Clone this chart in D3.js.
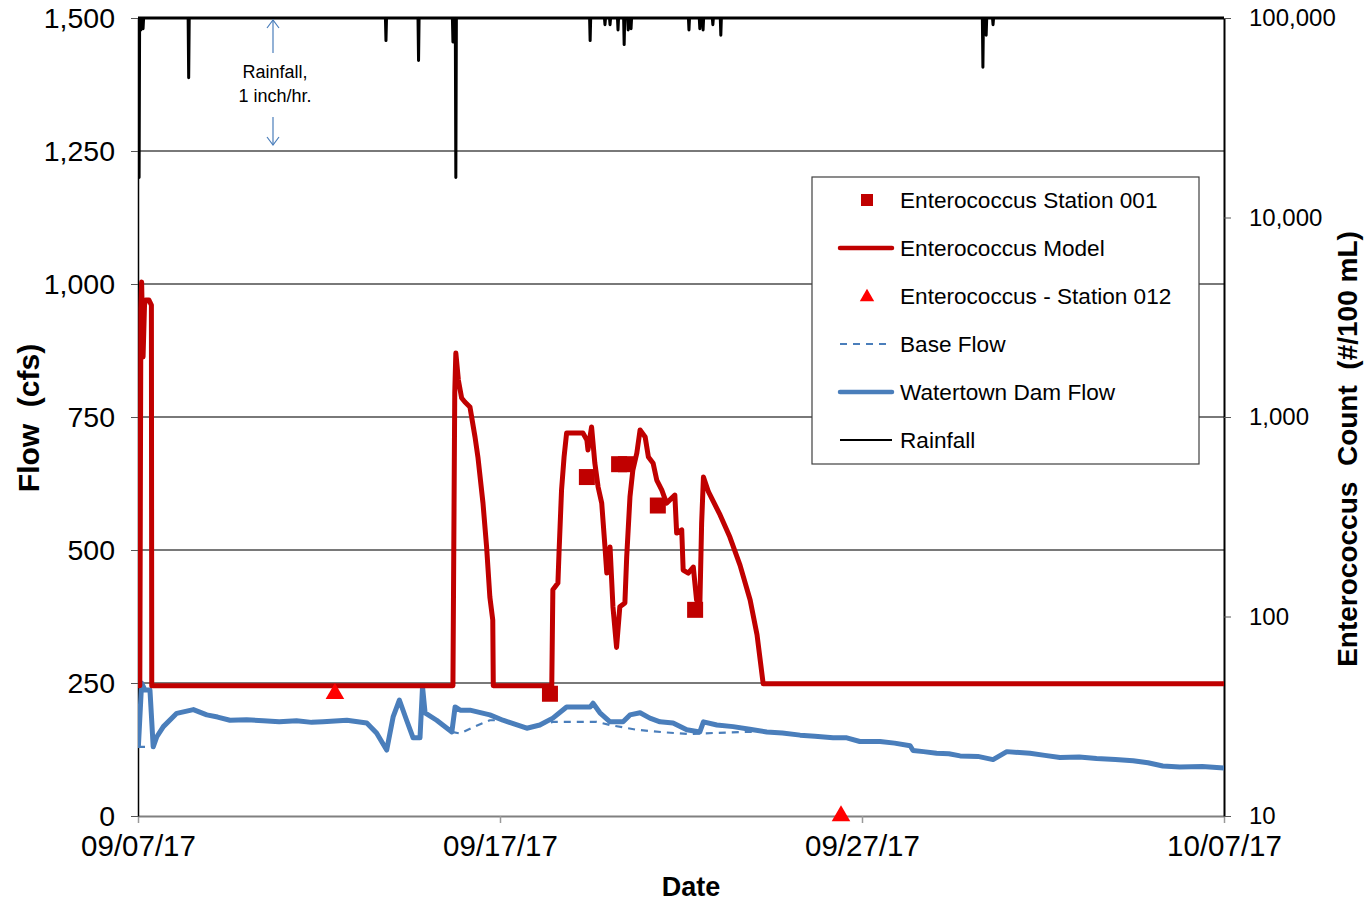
<!DOCTYPE html>
<html>
<head>
<meta charset="utf-8">
<script src="https://cdn.jsdelivr.net/npm/d3@7"></script>
<style>
  body { margin: 0; background: #fff; }
  text { font-family: "Liberation Sans", Arial, sans-serif; fill: #000; }
</style>
</head>
<body>
<svg id="chart" width="1371" height="907"></svg>
<script>
// day offsets are days after 09/07/17 00:00
var startDate = Date.UTC(2017, 8, 7);
var tickDays = [0, 10, 20, 30];
var flowTicks = [0, 250, 500, 750, 1000, 1250, 1500];
var countTicks = [10, 100, 1000, 10000, 100000];

// Watertown Dam Flow (cfs)
var flowDays = [0.01, 0.10, 0.19, 0.33, 0.42, 0.52, 0.70, 1.07, 1.53, 1.90, 2.20, 2.54, 3.00, 3.46, 3.90, 4.38, 4.80, 5.11, 5.77,
  6.32, 6.59, 6.87, 7.05, 7.22, 7.42, 7.60, 7.79, 7.86, 7.93, 8.25, 8.67, 8.76, 8.90, 9.17, 9.72, 10.08,
  10.74, 11.10, 11.46, 11.84, 12.49, 12.57, 12.76, 13.04, 13.40, 13.59, 13.87, 14.14, 14.42, 14.78, 15.16,
  15.52, 15.62, 15.99, 16.44, 16.90, 17.37, 17.80, 18.29, 18.70, 19.20, 19.58, 19.94, 20.50, 20.90, 21.33, 21.41, 21.70, 22.06, 22.40, 22.71, 23.20, 23.62,
  24.00, 24.64, 25.05, 25.47, 26.00, 26.48, 27.00, 27.49, 27.90, 28.31, 28.78, 29.40, 30.00];
var flowValues = [130, 250, 237, 237, 130, 149, 168, 193, 200, 190, 186, 180, 181, 179, 177, 179, 176, 177, 180,
  175, 156, 124, 187, 218, 180, 147, 147, 243, 194, 180, 158, 205, 199, 199, 190, 180,
  165, 171, 184, 205, 205, 212, 194, 177, 177, 190, 194, 184, 177, 175, 162,
  158, 177, 171, 168, 163, 158, 156, 152, 150, 147, 147, 140, 140, 137, 132, 123, 121, 118, 117, 113, 112, 106,
  121, 118, 114, 110, 111, 108, 106, 104, 100, 94, 92, 93, 90];

// Base Flow (cfs), null = not shown
var baseDays = [0.00, 0.42, 0.43, 8.67, 8.90, 9.30, 9.72, 10.08, 10.74, 11.10, 11.46, 12.67, 13.04, 13.78,
  14.60, 15.25, 15.88, 16.81, 17.37];
var baseValues = [130, 130, null, 158, 155, 168, 180, 180, 165, 171, 177, 177, 171, 162,
  157, 154, 156, 158, 158];

// Enterococcus Model (#/100 mL)
var modelDays = [0.00, 0.03, 0.05, 0.08, 0.10, 0.14, 0.18, 0.21, 0.30, 0.37, 0.38,
  8.70, 8.75, 8.78, 8.85, 8.94, 9.03, 9.17, 9.31, 9.39, 9.53, 9.63, 9.72, 9.80, 9.815,
  11.43, 11.46, 11.60, 11.63, 11.70, 11.77, 11.84, 11.93, 12.29, 12.40, 12.43, 12.53, 12.62, 12.71,
  12.81, 12.90, 12.95, 13.04, 13.12, 13.22, 13.31, 13.45, 13.50, 13.59, 13.67, 13.78, 13.87, 14.01,
  14.10, 14.23, 14.33, 14.47, 14.60, 14.83, 14.88, 15.02, 15.06, 15.20, 15.34, 15.43, 15.52, 15.57,
  15.62, 15.76, 16.08, 16.35, 16.63, 16.91, 17.10, 17.27, 30.00];
var modelValues = [89, 45, 45, 3500, 4750, 2000, 3640, 3860, 3860, 3640, 45,
  45, 1320, 2094, 1531, 1245, 1189, 1122, 794, 630, 370, 223, 125, 96, 45,
  45, 136, 147, 208, 430, 630, 832, 832, 832, 767, 684, 891, 587, 446,
  370, 223, 165, 223, 112, 70, 112, 117, 199, 397, 542, 660, 861, 794,
  630, 587, 483, 430, 370, 406, 262, 272, 171, 165, 177, 121, 112, 294,
  500, 421, 323, 250, 181, 121, 81, 46, 46];

// Enterococcus Station 001 samples
var st001Days = [11.38, 12.40, 13.29, 13.48, 14.36, 15.39];
var st001Values = [41, 500, 580, 580, 360, 108];

// Enterococcus - Station 012 samples
var st012Days = [5.44, 19.42];
var st012Values = [41, 10];

// Rainfall (inch/hr), hanging from the top
var rainDays = [0.03, 0.08, 0.14, 1.40, 6.85, 7.75, 8.70, 8.78, 12.49, 12.90, 13.04, 13.26, 13.43, 13.54,
  13.62, 15.22, 15.52, 15.61, 15.88, 16.10, 23.34, 23.43, 23.62];
var rainValues = [1.20, 0.09, 0.08, 0.45, 0.17, 0.32, 0.18, 1.20, 0.17, 0.05, 0.05, 0.09, 0.20, 0.09,
  0.08, 0.09, 0.08, 0.09, 0.05, 0.13, 0.37, 0.13, 0.05];

var svg = d3.select("#chart");
var plotL = 138, plotT = 18, plotR = 1224, plotB = 816;

function toDate(d) { return new Date(startDate + d * 864e5); }

var xScale = d3.scaleUtc().domain([toDate(0), toDate(30)]).range([plotL, plotR]);
var yFlow = d3.scaleLinear().domain([0, 1500]).range([plotB, plotT]);
var yCount = d3.scaleLog().domain([10, 100000]).range([plotB, plotT]);
var yRain = d3.scaleLinear().domain([0, 6]).range([plotT, plotB]);

var blue = "#4A7EBB", darkRed = "#C00000", red = "#FF0000";

svg.append("clipPath").attr("id", "plotClip")
  .append("rect").attr("x", plotL).attr("y", plotT - 3).attr("width", plotR - plotL).attr("height", plotB - plotT + 3);

// gridlines
svg.append("g").selectAll("line")
  .data(flowTicks.slice(1))
  .enter().append("line")
  .attr("x1", plotL).attr("x2", plotR)
  .attr("y1", function(d) { return yFlow(d); })
  .attr("y2", function(d) { return yFlow(d); })
  .attr("stroke", "#4d4d4d").attr("stroke-width", 1.3);

// axes
var xAxis = svg.append("g")
  .attr("transform", "translate(0," + plotB + ")")
  .call(d3.axisBottom(xScale).tickValues(tickDays.map(toDate)).tickFormat(d3.utcFormat("%m/%d/%y")).tickSize(7).tickSizeOuter(0));
xAxis.select(".domain").attr("stroke", "#808080").attr("stroke-width", 2);
xAxis.selectAll(".tick line").attr("stroke", "#999").attr("stroke-width", 1.5);
xAxis.selectAll("text").attr("font-size", 29.5).attr("dy", "1.0em").attr("fill", "#000");

var yAxisL = svg.append("g")
  .attr("transform", "translate(" + plotL + ",0)")
  .call(d3.axisLeft(yFlow).tickValues(flowTicks).tickFormat(d3.format(",")).tickSize(7).tickSizeOuter(0));
yAxisL.select(".domain").attr("stroke", "#000").attr("stroke-width", 1.5);
yAxisL.selectAll(".tick line").attr("stroke", "#555");
yAxisL.selectAll("text").attr("font-size", 28.5).attr("x", -23).attr("fill", "#000");

var yAxisR = svg.append("g")
  .attr("transform", "translate(" + plotR + ",0)")
  .call(d3.axisRight(yCount).tickValues(countTicks).tickFormat(d3.format(",")).tickSize(7).tickSizeOuter(0));
yAxisR.select(".domain").attr("stroke", "#000").attr("stroke-width", 2);
yAxisR.selectAll(".tick line").attr("stroke", "#555");
yAxisR.selectAll("text").attr("font-size", 24).attr("x", 25).attr("fill", "#000");

// axis titles
svg.append("text").attr("x", 691).attr("y", 896).attr("text-anchor", "middle")
  .attr("font-size", 27).attr("font-weight", "bold").text("Date");
svg.append("text").attr("transform", "translate(39,418) rotate(-90)").attr("text-anchor", "middle")
  .attr("font-size", 30).attr("font-weight", "bold").attr("xml:space", "preserve").text("Flow  (cfs)");
svg.append("text").attr("transform", "translate(1357,449) rotate(-90)").attr("text-anchor", "middle")
  .attr("font-size", 28).attr("font-weight", "bold").attr("xml:space", "preserve").text("Enterococcus  Count  (#/100 mL)");

var plot = svg.append("g").attr("clip-path", "url(#plotClip)");

// base flow
var baseLine = d3.line()
  .defined(function(d) { return d[1] !== null; })
  .x(function(d) { return xScale(toDate(d[0])); })
  .y(function(d) { return yFlow(d[1]); });
plot.append("path")
  .datum(baseDays.map(function(d, i) { return [d, baseValues[i]]; }))
  .attr("d", baseLine)
  .attr("fill", "none").attr("stroke", blue).attr("stroke-width", 2.2).attr("stroke-dasharray", "7,6");

// watertown dam flow
var flowLine = d3.line()
  .x(function(d) { return xScale(toDate(d[0])); })
  .y(function(d) { return yFlow(d[1]); });
plot.append("path")
  .datum(flowDays.map(function(d, i) { return [d, flowValues[i]]; }))
  .attr("d", flowLine)
  .attr("fill", "none").attr("stroke", blue).attr("stroke-width", 5).attr("stroke-linejoin", "round");

// model
var modelLine = d3.line()
  .x(function(d) { return xScale(toDate(d[0])); })
  .y(function(d) { return yCount(d[1]); });
plot.append("path")
  .datum(modelDays.map(function(d, i) { return [d, modelValues[i]]; }))
  .attr("d", modelLine)
  .attr("fill", "none").attr("stroke", darkRed).attr("stroke-width", 5).attr("stroke-linejoin", "round");

// rainfall: each reading drawn as a spike from the zero line
var rainPts = [[0, 0]];
rainDays.forEach(function(d, i) {
  rainPts.push([d - 0.015, 0], [d, rainValues[i]], [d + 0.015, 0]);
});
rainPts.push([30, 0]);
var rainLine = d3.line()
  .x(function(d) { return xScale(toDate(d[0])); })
  .y(function(d) { return yRain(d[1]); });
plot.append("path")
  .datum(rainPts)
  .attr("d", rainLine)
  .attr("fill", "none").attr("stroke", "#000").attr("stroke-width", 3).attr("stroke-linejoin", "round");

// station 001 squares
svg.append("g").selectAll("rect")
  .data(st001Days.map(function(d, i) { return [d, st001Values[i]]; }))
  .enter().append("rect")
  .attr("x", function(d) { return xScale(toDate(d[0])) - 8; })
  .attr("y", function(d) { return yCount(d[1]) - 8; })
  .attr("width", 16).attr("height", 16)
  .attr("fill", darkRed);

// station 012 triangles
var tri = d3.symbol().type(d3.symbolTriangle).size(150);
svg.append("g").selectAll("path")
  .data(st012Days.map(function(d, i) { return [d, st012Values[i]]; }))
  .enter().append("path")
  .attr("d", tri)
  .attr("transform", function(d) { return "translate(" + xScale(toDate(d[0])) + "," + yCount(d[1]) + ")"; })
  .attr("fill", red);

// rainfall scale note
var noteX = 273;
svg.append("text").attr("x", 275).attr("y", 78).attr("text-anchor", "middle").attr("font-size", 18).text("Rainfall,");
svg.append("text").attr("x", 275).attr("y", 102).attr("text-anchor", "middle").attr("font-size", 18).text("1 inch/hr.");
var noteArrow = svg.append("g").attr("stroke", blue).attr("stroke-width", 1.2).attr("fill", "none");
noteArrow.append("line").attr("x1", noteX).attr("x2", noteX).attr("y1", 53).attr("y2", yRain(0) + 2);
noteArrow.append("path").attr("d", "M" + (noteX - 6) + "," + (yRain(0) + 10) + "L" + noteX + "," + (yRain(0) + 2) + "L" + (noteX + 6) + "," + (yRain(0) + 10));
noteArrow.append("line").attr("x1", noteX).attr("x2", noteX).attr("y1", 117).attr("y2", yRain(1) - 6);
noteArrow.append("path").attr("d", "M" + (noteX - 6) + "," + (yRain(1) - 14) + "L" + noteX + "," + (yRain(1) - 6) + "L" + (noteX + 6) + "," + (yRain(1) - 14));

// legend
var legend = svg.append("g").attr("transform", "translate(812,177)");
legend.append("rect").attr("width", 387).attr("height", 287)
  .attr("fill", "#fff").attr("stroke", "#404040").attr("stroke-width", 1.2);
var legendItems = ["Enterococcus Station 001", "Enterococcus Model", "Enterococcus - Station 012",
  "Base Flow", "Watertown Dam Flow", "Rainfall"];
legendItems.forEach(function(name, i) {
  var y = 23 + i * 48;
  legend.append("text").attr("x", 88).attr("y", y).attr("dy", "0.35em").attr("font-size", 22.6).text(name);
  if (i === 0) {
    legend.append("rect").attr("x", 49).attr("y", y - 6).attr("width", 12).attr("height", 12).attr("fill", darkRed);
  } else if (i === 1) {
    legend.append("line").attr("x1", 28).attr("x2", 80).attr("y1", y).attr("y2", y)
      .attr("stroke", darkRed).attr("stroke-width", 4.5).attr("stroke-linecap", "round");
  } else if (i === 2) {
    legend.append("path").attr("d", d3.symbol().type(d3.symbolTriangle).size(90))
      .attr("transform", "translate(55," + (y + 1) + ")").attr("fill", red);
  } else if (i === 3) {
    legend.append("line").attr("x1", 28).attr("x2", 80).attr("y1", y).attr("y2", y)
      .attr("stroke", blue).attr("stroke-width", 2).attr("stroke-dasharray", "7,6");
  } else if (i === 4) {
    legend.append("line").attr("x1", 28).attr("x2", 80).attr("y1", y).attr("y2", y)
      .attr("stroke", blue).attr("stroke-width", 4.5).attr("stroke-linecap", "round");
  } else {
    legend.append("line").attr("x1", 28).attr("x2", 80).attr("y1", y).attr("y2", y)
      .attr("stroke", "#000").attr("stroke-width", 2);
  }
});
</script>
</body>
</html>
